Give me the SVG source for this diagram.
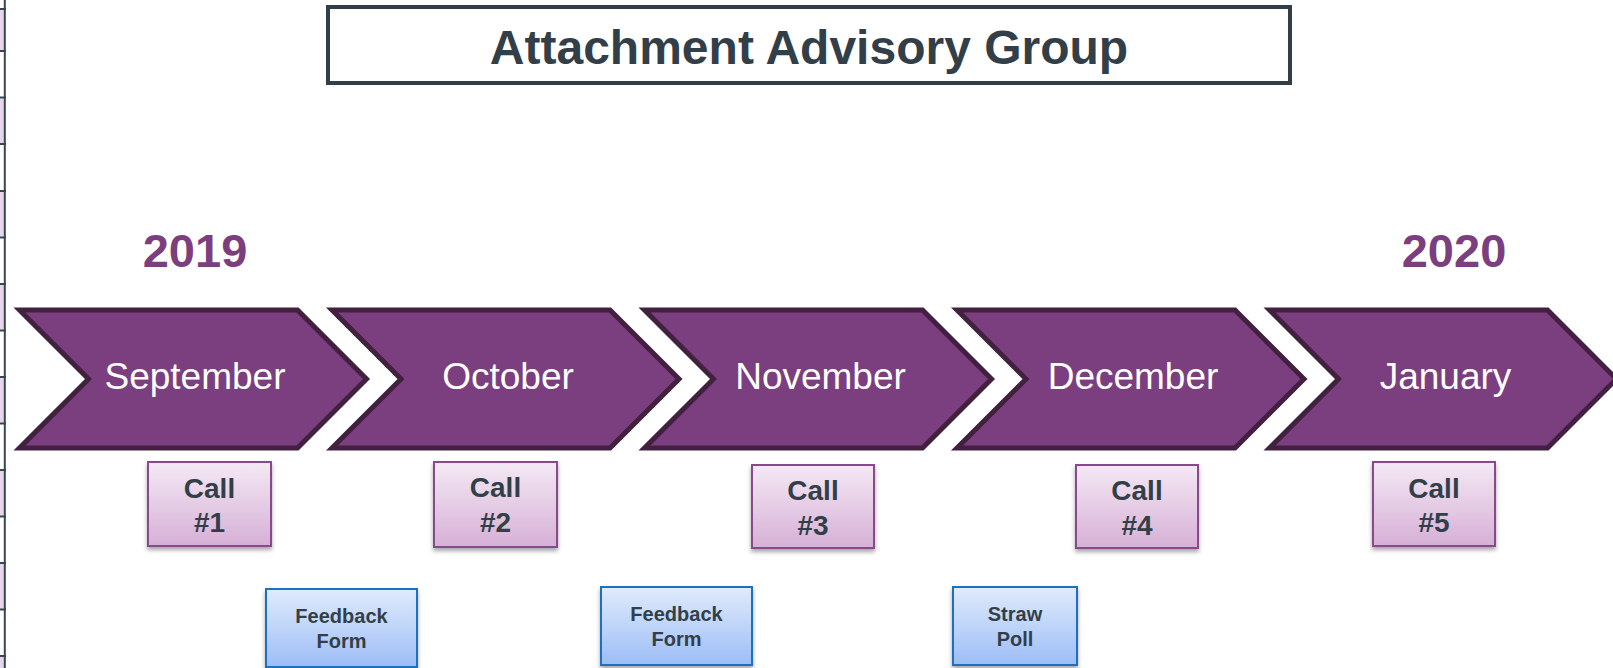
<svg xmlns="http://www.w3.org/2000/svg" width="1613" height="668" viewBox="0 0 1613 668">
  <defs>
    <linearGradient id="gradCall" x1="0" y1="0" x2="0" y2="1">
      <stop offset="0" stop-color="#f4e9f4"/>
      <stop offset="1" stop-color="#d6b0d6"/>
    </linearGradient>
    <linearGradient id="gradForm" x1="0" y1="0" x2="0" y2="1">
      <stop offset="0" stop-color="#e0ebfc"/>
      <stop offset="1" stop-color="#9dbdf6"/>
    </linearGradient>
    <filter id="shadow" x="-20%" y="-20%" width="140%" height="150%">
      <feDropShadow dx="0" dy="3" stdDeviation="2" flood-color="#000" flood-opacity="0.35"/>
    </filter>
    <path id="chevron" d="M4,310 L282,310 L351,379 L282,448 L4,448 L73,379 Z"/>
  </defs>
  <style>
    text { font-family: "Liberation Sans", Arial, sans-serif; text-anchor: middle; }
    .title { font-size: 48px; font-weight: bold; fill: #333f48; }
    .year { font-size: 47px; font-weight: bold; fill: #7b3f80; }
    .month { font-size: 37px; fill: #ffffff; }
    .chev { fill: #7b3f80; stroke: #42203f; stroke-width: 5; stroke-linejoin: miter; }
    .call rect { fill: url(#gradCall); stroke: #8a4a8c; stroke-width: 2; filter: url(#shadow); }
    .call text { font-size: 28px; font-weight: bold; fill: #333f48; }
    .form rect { fill: url(#gradForm); stroke: #1b6fc2; stroke-width: 2; filter: url(#shadow); }
    .form text { font-size: 20px; font-weight: bold; fill: #333f48; }
    .rule { stroke: #37474f; stroke-width: 2; }
  </style>

  <rect width="1613" height="668" fill="#ffffff"/>

  <!-- table edge on the left margin -->
  <g id="left-edge">
    <g fill="#e6d6ea">
      <rect x="0" y="9" width="4" height="42"/>
      <rect x="0" y="97.5" width="4" height="46.5"/>
      <rect x="0" y="191" width="4" height="46.5"/>
      <rect x="0" y="284" width="4" height="46.5"/>
      <rect x="0" y="377" width="4" height="46.5"/>
      <rect x="0" y="470" width="4" height="46.5"/>
      <rect x="0" y="563" width="4" height="46.5"/>
      <rect x="0" y="656" width="4" height="12"/>
    </g>
    <line class="rule" x1="4.8" y1="0" x2="4.8" y2="668" stroke-width="2.5"/>
    <g class="rule">
      <line x1="0" y1="9" x2="6" y2="9"/>
      <line x1="0" y1="51" x2="6" y2="51"/>
      <line x1="0" y1="97.5" x2="6" y2="97.5"/>
      <line x1="0" y1="144" x2="6" y2="144"/>
      <line x1="0" y1="191" x2="6" y2="191"/>
      <line x1="0" y1="237.5" x2="6" y2="237.5"/>
      <line x1="0" y1="284" x2="6" y2="284"/>
      <line x1="0" y1="330.5" x2="6" y2="330.5"/>
      <line x1="0" y1="377" x2="6" y2="377"/>
      <line x1="0" y1="423.5" x2="6" y2="423.5"/>
      <line x1="0" y1="470" x2="6" y2="470"/>
      <line x1="0" y1="516.5" x2="6" y2="516.5"/>
      <line x1="0" y1="563" x2="6" y2="563"/>
      <line x1="0" y1="609.5" x2="6" y2="609.5"/>
      <line x1="0" y1="656" x2="6" y2="656"/>
    </g>
  </g>

  <!-- title -->
  <g id="title">
    <rect x="328" y="7" width="962" height="76" fill="#ffffff" stroke="#333f48" stroke-width="4"/>
    <text class="title" x="809" y="64">Attachment Advisory Group</text>
  </g>

  <!-- years -->
  <g id="year-2019"><text class="year" x="195" y="267">2019</text></g>
  <g id="year-2020"><text class="year" x="1454" y="267">2020</text></g>

  <!-- month chevrons -->
  <g id="month-september">
    <use href="#chevron" class="chev" x="15.5"/>
    <text class="month" x="195" y="389">September</text>
  </g>
  <g id="month-october">
    <use href="#chevron" class="chev" x="328"/>
    <text class="month" x="508" y="389">October</text>
  </g>
  <g id="month-november">
    <use href="#chevron" class="chev" x="640.5"/>
    <text class="month" x="820.5" y="389">November</text>
  </g>
  <g id="month-december">
    <use href="#chevron" class="chev" x="953"/>
    <text class="month" x="1133" y="389">December</text>
  </g>
  <g id="month-january">
    <use href="#chevron" class="chev" x="1265.5"/>
    <text class="month" x="1445.5" y="389">January</text>
  </g>

  <!-- calls -->
  <g id="call-1" class="call">
    <rect x="148" y="462" width="123" height="84"/>
    <text x="209.5" y="498">Call</text>
    <text x="209.5" y="532">#1</text>
  </g>
  <g id="call-2" class="call">
    <rect x="434" y="462" width="123" height="85"/>
    <text x="495.5" y="497">Call</text>
    <text x="495.5" y="532">#2</text>
  </g>
  <g id="call-3" class="call">
    <rect x="752" y="465" width="122" height="83"/>
    <text x="813" y="500">Call</text>
    <text x="813" y="535">#3</text>
  </g>
  <g id="call-4" class="call">
    <rect x="1076" y="465" width="122" height="83"/>
    <text x="1137" y="500">Call</text>
    <text x="1137" y="535">#4</text>
  </g>
  <g id="call-5" class="call">
    <rect x="1373" y="462" width="122" height="84"/>
    <text x="1434" y="498">Call</text>
    <text x="1434" y="532">#5</text>
  </g>

  <!-- feedback activities -->
  <g id="feedback-form-1" class="form">
    <rect x="266" y="589" width="151" height="78"/>
    <text x="341.5" y="623">Feedback</text>
    <text x="341.5" y="648">Form</text>
  </g>
  <g id="feedback-form-2" class="form">
    <rect x="601" y="587" width="151" height="78"/>
    <text x="676.5" y="621">Feedback</text>
    <text x="676.5" y="646">Form</text>
  </g>
  <g id="straw-poll" class="form">
    <rect x="953" y="587" width="124" height="78"/>
    <text x="1015" y="621">Straw</text>
    <text x="1015" y="646">Poll</text>
  </g>
</svg>
